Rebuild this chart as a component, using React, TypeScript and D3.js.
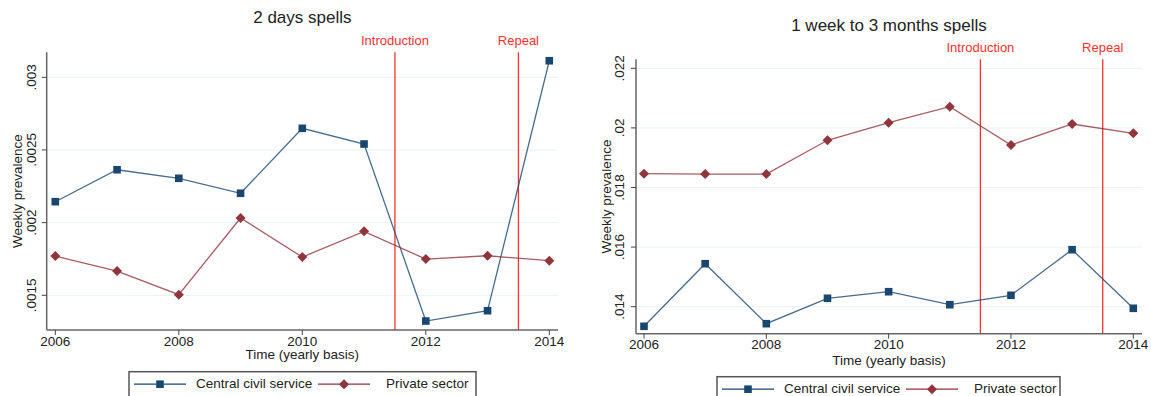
import React from "react";
import * as d3 from "d3";

const years = [2006, 2007, 2008, 2009, 2010, 2011, 2012, 2013, 2014];
const xTicks = [2006, 2008, 2010, 2012, 2014];

const shortCentral = [0.002144, 0.002364, 0.002305, 0.002202, 0.002649, 0.002541, 0.001323, 0.001394, 0.003114];
const shortPrivate = [0.00177, 0.001667, 0.001504, 0.002032, 0.001763, 0.00194, 0.001749, 0.001772, 0.001738];
const shortTicks = [0.0015, 0.002, 0.0025, 0.003];
const shortTickLabels = [".0015", ".002", ".0025", ".003"];

const longCentral = [0.013342, 0.015443, 0.01343, 0.014282, 0.014503, 0.014067, 0.014383, 0.015913, 0.013946];
const longPrivate = [0.018463, 0.01845, 0.01845, 0.019584, 0.020174, 0.020711, 0.019426, 0.020131, 0.019819];
const longTicks = [0.014, 0.016, 0.018, 0.02, 0.022];
const longTickLabels = [".014", ".016", ".018", ".02", ".022"];

const events = [
  { year: 2011.5, label: "Introduction" },
  { year: 2013.5, label: "Repeal" },
];

const seriesNames = ["Central civil service", "Private sector"];

const BLUE = "#1a476f";
const RED = "#90353b";
const EVENT = "#ff3030";
const FONT = "'Liberation Sans', Arial, sans-serif";
const TXT = "#222";

type PanelProps = {
  title: string;
  central: number[];
  priv: number[];
  ticks: number[];
  tickLabels: string[];
  g: {
    left: number; right: number; top: number; bottom: number;
    x0: number; x1: number; y0: number; y1: number;
    titleY: number; evY: number; ylabX: number; tickLabX: number;
    xtitleY: number; legX: number; legY: number; legW: number;
  };
};

function Square({ x, y }: { x: number; y: number }) {
  return <rect x={x - 3.8} y={y - 3.8} width={7.6} height={7.6} fill={BLUE} />;
}
function Diamond({ x, y }: { x: number; y: number }) {
  const r = 5;
  return <path d={`M${x},${y - r}L${x + r},${y}L${x},${y + r}L${x - r},${y}Z`} fill={RED} />;
}

function Panel({ title, central, priv, ticks, tickLabels, g }: PanelProps) {
  const x = d3.scaleLinear().domain([2006, 2014]).range([g.x0, g.x1]);
  const y = d3.scaleLinear().domain([ticks[0], ticks[ticks.length - 1]]).range([g.y0, g.y1]);
  const line = d3
    .line<number>()
    .x((_, i) => x(years[i]))
    .y((d) => y(d));
  const cx = (g.left + g.right) / 2;
  const legMid = g.legY + 12.5;
  return (
    <g fontFamily={FONT}>
      <text x={cx} y={g.titleY} textAnchor="middle" fontSize={17} fill={TXT} dominantBaseline="middle">
        {title}
      </text>
      {ticks.map((t) => (
        <line key={t} x1={g.left} x2={g.right} y1={y(t)} y2={y(t)} stroke="#eaf2f3" strokeWidth={1} />
      ))}
      {events.map((e) => (
        <g key={e.label}>
          <line x1={x(e.year)} x2={x(e.year)} y1={g.top} y2={g.bottom} stroke={EVENT} strokeWidth={1.3} />
          <text x={x(e.year)} y={g.evY} textAnchor="middle" fontSize={13} fill={EVENT} dominantBaseline="middle">
            {e.label}
          </text>
        </g>
      ))}
      <path d={line(central) || ""} fill="none" stroke={BLUE} strokeOpacity={0.8} strokeWidth={1.3} />
      <path d={line(priv) || ""} fill="none" stroke={RED} strokeOpacity={0.8} strokeWidth={1.3} />
      {central.map((v, i) => (
        <Square key={"c" + i} x={x(years[i])} y={y(v)} />
      ))}
      {priv.map((v, i) => (
        <Diamond key={"p" + i} x={x(years[i])} y={y(v)} />
      ))}
      <line x1={g.left} x2={g.left} y1={g.top} y2={g.bottom} stroke="#666" strokeWidth={1.5} />
      <line x1={g.left} x2={g.right} y1={g.bottom} y2={g.bottom} stroke="#666" strokeWidth={1.5} />
      {ticks.map((t, i) => (
        <g key={"yt" + t}>
          <line x1={g.left - 5} x2={g.left} y1={y(t)} y2={y(t)} stroke="#444" />
          <text
            transform={`translate(${g.tickLabX},${y(t)}) rotate(-90)`}
            textAnchor="middle"
            dominantBaseline="middle"
            fontSize={13.5}
            fill={TXT}
          >
            {tickLabels[i]}
          </text>
        </g>
      ))}
      {xTicks.map((t) => (
        <g key={"xt" + t}>
          <line x1={x(t)} x2={x(t)} y1={g.bottom} y2={g.bottom + 5} stroke="#444" />
          <text x={x(t)} y={g.bottom + 12} textAnchor="middle" dominantBaseline="middle" fontSize={13.5} fill={TXT}>
            {t}
          </text>
        </g>
      ))}
      <text
        transform={`translate(${g.ylabX},${(g.top + g.bottom) / 2}) rotate(-90)`}
        textAnchor="middle"
        dominantBaseline="middle"
        fontSize={13.5}
        fill={TXT}
      >
        Weekly prevalence
      </text>
      <text x={cx} y={g.xtitleY} textAnchor="middle" dominantBaseline="middle" fontSize={13.5} fill={TXT}>
        Time (yearly basis)
      </text>
      <rect x={g.legX} y={g.legY} width={g.legW} height={40} fill="white" stroke="#555" strokeWidth={1.5} />
      <line x1={g.legX + 5} x2={g.legX + 57} y1={legMid} y2={legMid} stroke={BLUE} strokeWidth={1.3} />
      <Square x={g.legX + 31} y={legMid} />
      <text x={g.legX + 67} y={legMid} dominantBaseline="middle" fontSize={13.5} fill={TXT}>
        {seriesNames[0]}
      </text>
      <line x1={g.legX + 189} x2={g.legX + 241} y1={legMid} y2={legMid} stroke={RED} strokeWidth={1.3} />
      <Diamond x={g.legX + 215} y={legMid} />
      <text x={g.legX + 257} y={legMid} dominantBaseline="middle" fontSize={13.5} fill={TXT}>
        {seriesNames[1]}
      </text>
    </g>
  );
}

export default function App() {
  return (
    <svg
      width={1151}
      height={396}
      style={{ position: "absolute", left: 0, top: 0, background: "white" }}
    >
      <rect width={1151} height={396} fill="white" />
      <Panel
        title="2 days spells"
        central={shortCentral}
        priv={shortPrivate}
        ticks={shortTicks}
        tickLabels={shortTickLabels}
        g={{
          left: 46.7, right: 558, top: 52.3, bottom: 330,
          x0: 55.3, x1: 549.3, y0: 295.3, y1: 77.3,
          titleY: 19, evY: 42, ylabX: 18, tickLabX: 32,
          xtitleY: 355.5, legX: 129, legY: 371.7, legW: 347,
        }}
      />
      <Panel
        title="1 week to 3 months spells"
        central={longCentral}
        priv={longPrivate}
        ticks={longTicks}
        tickLabels={longTickLabels}
        g={{
          left: 636, right: 1142, top: 59.3, bottom: 333.7,
          x0: 644, x1: 1133.3, y0: 306.7, y1: 68.3,
          titleY: 27, evY: 49, ylabX: 607, tickLabX: 620,
          xtitleY: 361, legX: 717, legY: 376.7, legW: 343,
        }}
      />
    </svg>
  );
}
